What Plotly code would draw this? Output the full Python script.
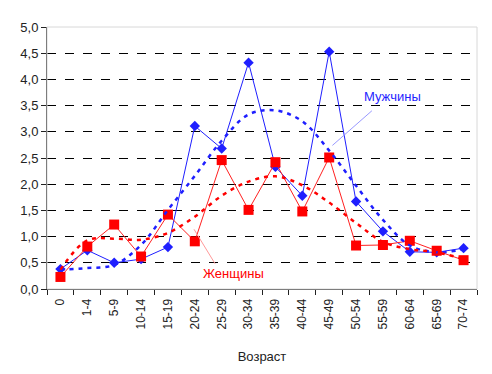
import plotly.graph_objects as go

categories = ["0", "1-4", "5-9", "10-14", "15-19", "20-24", "25-29", "30-34",
              "35-39", "40-44", "45-49", "50-54", "55-59", "60-64", "65-69", "70-74"]
men = [0.38, 0.74, 0.50, 0.57, 0.80, 3.11, 2.68, 4.32, 2.33, 1.78, 4.53, 1.67, 1.10, 0.71, 0.70, 0.78]
women = [0.23, 0.81, 1.23, 0.62, 1.42, 0.91, 2.46, 1.51, 2.42, 1.48, 2.51, 0.83, 0.84, 0.92, 0.73, 0.55]
men_trend = [0.37, 0.40, 0.46, 0.84, 1.51, 2.16, 2.83, 3.33, 3.41, 3.20, 2.64, 1.97, 1.32, 0.83, 0.70, 0.76]
women_trend = [0.37, 0.93, 0.96, 0.94, 1.07, 1.38, 1.78, 2.05, 2.15, 1.98, 1.65, 1.26, 0.90, 0.76, 0.70, 0.57]
y_ticks = [0, 0.5, 1, 1.5, 2, 2.5, 3, 3.5, 4, 4.5, 5]
y_tick_labels = ["0,0", "0,5", "1,0", "1,5", "2,0", "2,5", "3,0", "3,5", "4,0", "4,5", "5,0"]

BLUE = "#1f1fff"
RED = "#ff0000"
FONT = "Liberation Sans, Arial, sans-serif"

fig = go.Figure()
fig.add_trace(go.Scatter(x=categories, y=men, mode="lines+markers", name="Мужчины",
                         line=dict(color=BLUE, width=1),
                         marker=dict(symbol="diamond", size=8, color=BLUE)))
fig.add_trace(go.Scatter(x=categories, y=women, mode="lines+markers", name="Женщины",
                         line=dict(color="#ff2020", width=1),
                         marker=dict(symbol="square", size=10, color=RED)))
fig.add_trace(go.Scatter(x=categories, y=men_trend, mode="lines", line_shape="spline",
                         line=dict(color=BLUE, width=2.5, dash="4px,5px")))
fig.add_trace(go.Scatter(x=categories, y=women_trend, mode="lines", line_shape="spline",
                         line=dict(color=RED, width=2.5, dash="4px,5px")))

# leader lines
fig.add_annotation(x=10.12, y=2.74, xref="x", yref="y", text="", showarrow=True,
                   arrowhead=0, arrowwidth=1, arrowcolor="#9999ff", ax=41, ay=-36)
fig.add_annotation(x=4.97, y=1.14, xref="x", yref="y", text="", showarrow=True,
                   arrowhead=0, arrowwidth=1, arrowcolor="#ff9999", ax=22, ay=36)
# labels
fig.add_annotation(x=10.12, y=2.74, xref="x", yref="y", text="Мужчины", showarrow=False,
                   xshift=60, yshift=49, font=dict(color=BLUE, size=13, family=FONT))
fig.add_annotation(x=4.97, y=1.14, xref="x", yref="y", text="Женщины", showarrow=False,
                   xshift=39, yshift=-44, font=dict(color=RED, size=13, family=FONT))

# plot area border
fig.add_shape(type="rect", xref="paper", yref="paper", x0=0, y0=0, x1=1, y1=1,
              line=dict(color="#d8d8d8", width=1), layer="above")

fig.update_layout(
    width=484, height=366,
    margin=dict(l=37, r=15, t=18, b=82),
    paper_bgcolor="white", plot_bgcolor="white",
    showlegend=False,
    font=dict(family=FONT, size=13, color="#222222"),
    xaxis=dict(type="category", range=[-0.5, 15.5], tickson="boundaries",
               ticks="outside", ticklen=5, tickcolor="#222222",
               showline=True, linecolor="#222222", linewidth=1,
               showgrid=False, tickangle=-90, tickfont=dict(size=12),
               ticklabelstandoff=4,
               title=dict(text="Возраст", standoff=23, font=dict(size=13))),
    yaxis=dict(range=[0, 5], tickvals=y_ticks, ticktext=y_tick_labels,
               ticks="outside", ticklen=5, tickcolor="#222222",
               showline=True, linecolor="#222222", linewidth=1,
               showgrid=True, gridcolor="#000000", griddash="dash", gridwidth=1,
               zeroline=False, tickfont=dict(size=13)),
)

fig.write_html("out.html")
